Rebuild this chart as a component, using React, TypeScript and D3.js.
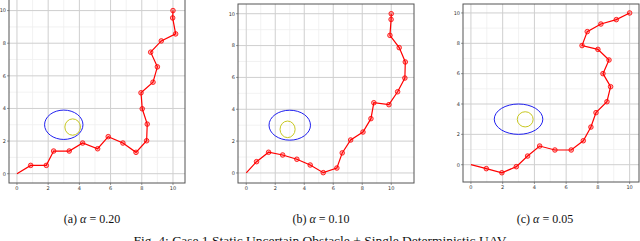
import React from "react";
import * as d3 from "d3";

const W = 640;
const H = 241;

const captionLetters = ["(a)", "(b)", "(c)"];
const captionAlphas = ["0.20", "0.10", "0.05"];
const figCaption =
  "Fig. 4: Case 1 Static Uncertain Obstacle + Single Deterministic UAV";
const tickValues = [0, 2, 4, 6, 8, 10];
const minorValues = [1, 3, 5, 7, 9];

// UAV path, one array per alpha
const pathXa = [0, 0.88, 1.88, 2.35, 3.35, 4.21, 5.17, 5.85, 6.79, 7.63, 8.31, 8.35, 8.03, 7.95, 8.72, 9.0, 8.57, 9.25, 10.17, 9.98, 10.0];
const pathYa = [0, 0.51, 0.51, 1.39, 1.39, 1.88, 1.53, 2.27, 1.88, 1.31, 2.02, 3.04, 3.98, 4.96, 5.61, 6.55, 7.45, 8.14, 8.57, 9.55, 10.0];
const pathXb = [0, 0.71, 1.54, 2.51, 3.49, 4.41, 5.31, 6.25, 6.62, 7.2, 8.05, 8.6, 8.8, 9.84, 10.44, 10.94, 10.97, 10.55, 9.91, 9.99, 10.0];
const pathYb = [0, 0.71, 1.3, 1.13, 0.86, 0.5, 0.02, 0.31, 1.26, 2.07, 2.57, 3.41, 4.41, 4.29, 5.1, 5.96, 6.97, 7.87, 8.64, 9.64, 10.0];
const pathXc = [0, 0.97, 1.95, 2.86, 3.57, 4.33, 5.29, 6.32, 7.08, 7.56, 7.88, 8.57, 8.8, 8.32, 8.7, 8.0, 7.0, 7.33, 8.19, 9.16, 10.0];
const pathYc = [0, -0.26, -0.53, -0.13, 0.57, 1.23, 0.97, 0.97, 1.58, 2.48, 3.43, 4.15, 5.14, 6.0, 6.9, 7.6, 7.85, 8.77, 9.27, 9.56, 10.0];

// obstacle: uncertainty ellipse (blue) and obstacle circle (yellow)
const ellipseCx = [3, 3, 3];
const ellipseCy = [3, 3, 3];
const ellipseRx = [1.23, 1.43, 1.53];
const ellipseRy = [0.9, 0.94, 1.0];
const obsCx = [3.57, 2.85, 3.42];
const obsCy = [2.86, 2.74, 2.99];
const obsR = [0.5, 0.52, 0.5];

const panels = [
  { box: [9, 185, -1, 183], xd: [-0.51, 10.77], yd: [-0.57, 10.71], cx: 92, px: pathXa, py: pathYa },
  { box: [238, 414, 4, 183], xd: [-0.57, 11.57], yd: [-0.63, 10.61], cx: 321, px: pathXb, py: pathYb },
  { box: [463, 639, 4, 182], xd: [-0.5, 10.59], yd: [-1.14, 10.59], cx: 545, px: pathXc, py: pathYc },
];

const Panel = ({ p, i }: { p: any; i: number }) => {
  const [l, r, t, b] = p.box;
  const x = d3.scaleLinear().domain(p.xd).range([l, r]);
  const y = d3.scaleLinear().domain(p.yd).range([b, t]);
  const pts: [number, number][] = p.px.map((v: number, k: number) => [v, p.py[k]]);
  const line = d3
    .line<[number, number]>()
    .x((d) => x(d[0]))
    .y((d) => y(d[1]));
  const sx = Math.abs(x(1) - x(0));
  const sy = Math.abs(y(1) - y(0));
  return (
    <g>
      <rect x={l} y={t} width={r - l} height={b - t} fill="#fff" />
      {minorValues.map((v) => (
        <g key={"m" + v}>
          <line x1={x(v)} x2={x(v)} y1={t} y2={b} stroke="#efefef" strokeWidth={0.8} />
          <line x1={l} x2={r} y1={y(v)} y2={y(v)} stroke="#efefef" strokeWidth={0.8} />
        </g>
      ))}
      {tickValues.map((v) => (
        <g key={"g" + v}>
          <line x1={x(v)} x2={x(v)} y1={t} y2={b} stroke="#cfcfcf" strokeWidth={1} />
          <line x1={l} x2={r} y1={y(v)} y2={y(v)} stroke="#cfcfcf" strokeWidth={1} />
        </g>
      ))}
      <ellipse
        cx={x(ellipseCx[i])}
        cy={y(ellipseCy[i])}
        rx={ellipseRx[i] * sx}
        ry={ellipseRy[i] * sy}
        fill="none"
        stroke="#2020f0"
        strokeWidth={1}
      />
      <ellipse
        cx={x(obsCx[i])}
        cy={y(obsCy[i])}
        rx={obsR[i] * sx}
        ry={obsR[i] * sy}
        fill="none"
        stroke="#c8c820"
        strokeWidth={1}
      />
      <path d={line(pts) || ""} fill="none" stroke="#ff0000" strokeWidth={1.2} />
      {pts.slice(1).map((d, k) => (
        <circle
          key={k}
          cx={x(d[0])}
          cy={y(d[1])}
          r={2.3}
          fill="rgba(255,0,0,0.3)"
          stroke="#ff0000"
          strokeWidth={0.8}
        />
      ))}
      <rect x={l} y={t} width={r - l} height={b - t} fill="none" stroke="#555" strokeWidth={1} />
      {tickValues.map((v) => (
        <g key={"t" + v} fontFamily="DejaVu Sans" fontSize={5} fill="#333">
          <line x1={x(v)} x2={x(v)} y1={b} y2={b + 2} stroke="#555" strokeWidth={0.6} />
          <text x={x(v)} y={b + 7} textAnchor="middle">
            {v}
          </text>
          <line x1={l - 2} x2={l} y1={y(v)} y2={y(v)} stroke="#555" strokeWidth={0.6} />
          <text x={l - 3} y={y(v) + 1.8} textAnchor="end">
            {v}
          </text>
        </g>
      ))}
      <text
        x={p.cx}
        y={223}
        textAnchor="middle"
        fontFamily="Liberation Serif"
        fontSize={12}
        fill="#111"
      >
        {captionLetters[i]} <tspan fontStyle="italic">α</tspan>
        {" = "}
        {captionAlphas[i]}
      </text>
    </g>
  );
};

export default function App() {
  return (
    <svg
      width={W}
      height={H}
      viewBox={`0 0 ${W} ${H}`}
      style={{ position: "absolute", left: 0, top: 0, background: "#fff" }}
    >
      <rect width={W} height={H} fill="#fff" />
      {panels.map((p, i) => (
        <Panel key={i} p={p} i={i} />
      ))}
      <text
        x={320}
        y={245}
        textAnchor="middle"
        fontFamily="Liberation Serif"
        fontSize={13.5}
        fill="#111"
      >
        {figCaption}
      </text>
    </svg>
  );
}
